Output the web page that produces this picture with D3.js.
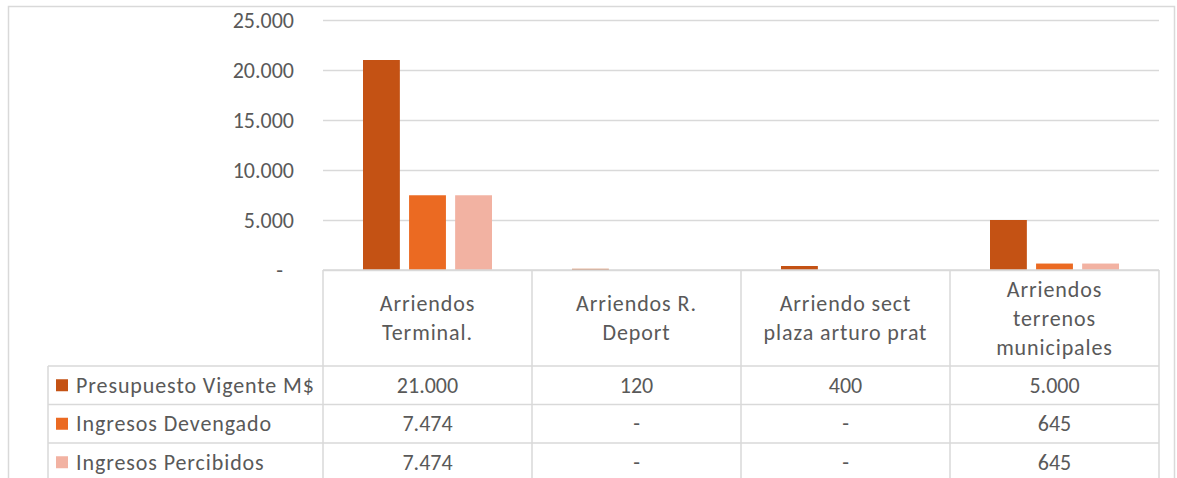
<!DOCTYPE html>
<html>
<head>
<meta charset="utf-8">
<script src="https://cdn.jsdelivr.net/npm/d3@7"></script>
<style>
  body { margin: 0; background: #fff; }
  text { font-family: Calibri, Carlito, Lato, sans-serif; fill: #595959; font-size: 22px; }
  .lbl { letter-spacing: 0.9px; }
</style>
</head>
<body>
<div id="canvas"></div>
<script>
// data
var categories = [
  ['Arriendos', 'Terminal.'],
  ['Arriendos R.', 'Deport'],
  ['Arriendo sect', 'plaza arturo prat'],
  ['Arriendos', 'terrenos', 'municipales']
];
var seriesNames = ['Presupuesto Vigente M$', 'Ingresos Devengado', 'Ingresos Percibidos'];
var presupuesto = [21000, 120, 400, 5000];
var devengado = [7474, 0, 0, 645];
var percibidos = [7474, 0, 0, 645];
var yTicks = [0, 5000, 10000, 15000, 20000, 25000];

var colors = ['#C45214', '#EB6A22', '#F2B2A2'];
var values = [presupuesto, devengado, percibidos];

var W = 1177, H = 478;
var m = {t:20, r:18, b:208, l:323};   // plot area: 323..1159, 20..270
var w = W - m.l - m.r, h = H - m.t - m.b;

var es = d3.formatLocale({decimal:',', thousands:'.', grouping:[3], currency:['$','']});
var fmt = function(v){ return v === 0 ? '-' : es.format(',.0f')(v); };

var svg = d3.select('#canvas').append('svg')
  .attr('width', W).attr('height', H);

// outer chart border
svg.append('rect')
  .attr('x', 8.5).attr('y', 6.5)
  .attr('width', 1166).attr('height', 500)
  .attr('fill', 'none').attr('stroke', '#d9d9d9').attr('stroke-width', 1.5);

var plot = svg.append('g')
  .attr('transform', 'translate(' + m.l + ',' + m.t + ')');

var scaleY = d3.scaleLinear().domain([0, 25000]).range([h, 0]);
var scaleX = d3.scaleBand().domain(d3.range(categories.length)).range([0, w]);
var scaleS = d3.scaleBand().domain(d3.range(seriesNames.length))
  .range([40, 169]).paddingInner(0.2);

// gridlines + y labels
var axisY = d3.axisLeft(scaleY).tickValues(yTicks).tickSize(-w).tickFormat(fmt);
var gy = plot.append('g').attr('class', 'axis axis-y').call(axisY);
gy.select('.domain').remove();
gy.selectAll('.tick line').attr('stroke', '#d9d9d9').attr('stroke-width', 1.5);
gy.selectAll('.tick text')
  .attr('x', -29).attr('dy', '0.35em')
  .attr('font-size', null)
  .attr('font-family', null)
  .attr('dx', function(d){ return d === 0 ? -11 : 0; });

// bars
values.forEach(function(vals, s){
  plot.selectAll('.bar-' + s)
    .data(vals)
    .enter().append('rect')
    .attr('class', 'bar-' + s)
    .attr('x', function(d, i){ return scaleX(i) + scaleS(s); })
    .attr('width', scaleS.bandwidth())
    .attr('y', function(d){ return scaleY(d); })
    .attr('height', function(d){ return h - scaleY(d); })
    .attr('fill', colors[s]);
});

// data table
var tableTop = m.t + h;        // 270
var headH = 96, rowH = 38.5;
var legendX = 48;
var lineC = '#d9d9d9';
var table = svg.append('g');

function hline(x1, x2, y){
  table.append('line').attr('x1', x1).attr('x2', x2).attr('y1', y).attr('y2', y)
    .attr('stroke', lineC).attr('stroke-width', 1.5);
}
function vline(x, y1, y2){
  table.append('line').attr('x1', x).attr('x2', x).attr('y1', y1).attr('y2', y2)
    .attr('stroke', lineC).attr('stroke-width', 1.5);
}

hline(m.l, m.l + w, tableTop);
for (var r = 0; r < 3; r++) hline(legendX, m.l + w, tableTop + headH + r * rowH);
vline(legendX, tableTop + headH, H + 10);
for (var c = 0; c <= categories.length; c++) {
  var cx = c < categories.length ? m.l + scaleX(c) : m.l + w;
  vline(cx, tableTop, H + 10);
}

// header labels
categories.forEach(function(lines, i){
  var cx = m.l + scaleX(i) + scaleX.bandwidth() / 2;
  var cy = tableTop + headH / 2;
  var lh = 29;
  var t = table.append('text')
    .attr('class', 'lbl')
    .attr('text-anchor', 'middle');
  lines.forEach(function(l, k){
    t.append('tspan')
      .attr('x', cx)
      .attr('y', cy + (k - (lines.length - 1) / 2) * lh)
      .attr('dy', '0.35em')
      .text(l);
  });
});

// rows
seriesNames.forEach(function(name, s){
  var cy = tableTop + headH + s * rowH + rowH / 2;
  table.append('rect')
    .attr('x', 56).attr('y', cy - 6).attr('width', 12).attr('height', 12)
    .attr('fill', colors[s]);
  table.append('text')
    .attr('class', 'lbl')
    .attr('x', 76).attr('y', cy).attr('dy', '0.35em')
    .text(name);
  values[s].forEach(function(v, i){
    table.append('text')
      .attr('x', m.l + scaleX(i) + scaleX.bandwidth() / 2)
      .attr('y', cy).attr('dy', '0.35em')
      .attr('text-anchor', 'middle')
      .text(fmt(v));
  });
});
</script>
</body>
</html>
